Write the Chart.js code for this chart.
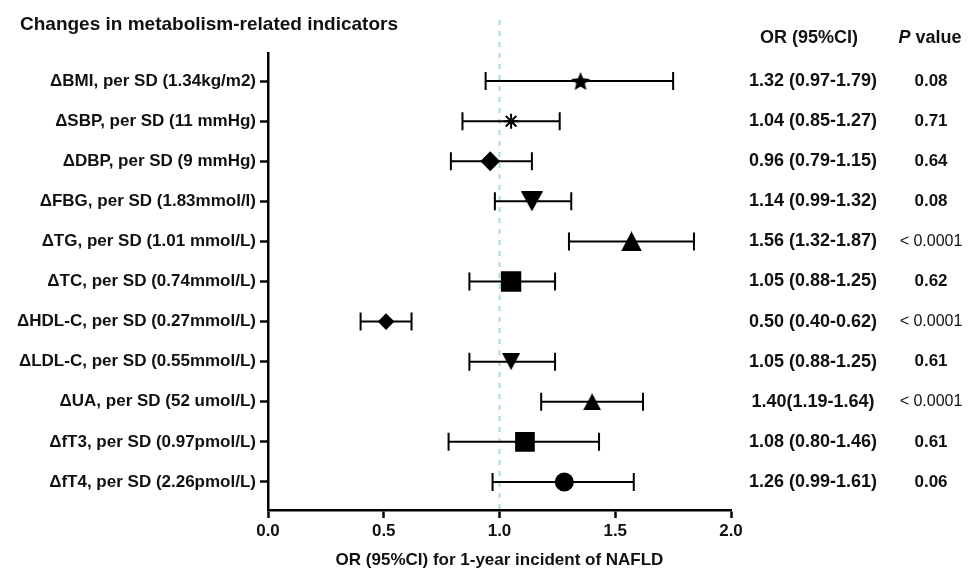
<!DOCTYPE html>
<html>
<head>
<meta charset="utf-8">
<script src="https://cdn.jsdelivr.net/npm/chart.js@4.4.1/dist/chart.umd.min.js"></script>
<style>
  body { margin: 0; background: #fff; }
  #wrap { width: 970px; height: 572px; }
</style>
</head>
<body>
<div id="wrap"><canvas id="forest"></canvas></div>
<script>
// rows, top to bottom
var labels = [
  'ΔBMI, per SD (1.34kg/m2)',
  'ΔSBP, per SD (11 mmHg)',
  'ΔDBP, per SD (9 mmHg)',
  'ΔFBG, per SD (1.83mmol/l)',
  'ΔTG, per SD (1.01 mmol/L)',
  'ΔTC, per SD (0.74mmol/L)',
  'ΔHDL-C, per SD (0.27mmol/L)',
  'ΔLDL-C, per SD (0.55mmol/L)',
  'ΔUA, per SD (52 umol/L)',
  'ΔfT3, per SD (0.97pmol/L)',
  'ΔfT4, per SD (2.26pmol/L)'
];
// values as drawn in the plot
var orValues = [1.35, 1.05, 0.96, 1.14, 1.57, 1.05, 0.51, 1.05, 1.40, 1.11, 1.28];
var ciLow    = [0.94, 0.84, 0.79, 0.98, 1.30, 0.87, 0.40, 0.87, 1.18, 0.78, 0.97];
var ciHigh   = [1.75, 1.26, 1.14, 1.31, 1.84, 1.24, 0.62, 1.24, 1.62, 1.43, 1.58];
// text columns
var orText = ['1.32 (0.97-1.79)', '1.04 (0.85-1.27)', '0.96 (0.79-1.15)', '1.14 (0.99-1.32)',
  '1.56 (1.32-1.87)', '1.05 (0.88-1.25)', '0.50 (0.40-0.62)', '1.05 (0.88-1.25)',
  '1.40(1.19-1.64)', '1.08 (0.80-1.46)', '1.26 (0.99-1.61)'];
var pText = ['0.08', '0.71', '0.64', '0.08', '< 0.0001', '0.62', '< 0.0001', '0.61', '< 0.0001', '0.61', '0.06'];
var xTicks = [0, 0.5, 1.0, 1.5, 2.0];

var FONT = '"Liberation Sans", Arial, sans-serif';
Chart.defaults.font.family = FONT;
Chart.defaults.color = '#111';

function makeStar(R) {
  var c = document.createElement('canvas');
  var s = Math.ceil(R * 2);
  c.width = s; c.height = s;
  var g = c.getContext('2d');
  var cx = s / 2, cy = s / 2 + R * 0.1;
  g.beginPath();
  for (var k = 0; k < 10; k++) {
    var r = k % 2 ? R * 0.45 : R;
    var a = -Math.PI / 2 + k * Math.PI / 5;
    g.lineTo(cx + r * Math.cos(a), cy + r * Math.sin(a));
  }
  g.closePath();
  g.fillStyle = '#000';
  g.fill();
  return c;
}

function makeTriangle(w, h, down) {
  var c = document.createElement('canvas');
  c.width = w; c.height = h;
  var g = c.getContext('2d');
  g.beginPath();
  if (down) {
    g.moveTo(0, 0); g.lineTo(w, 0); g.lineTo(w / 2, h);
  } else {
    g.moveTo(w / 2, 0); g.lineTo(w, h); g.lineTo(0, h);
  }
  g.closePath();
  g.fillStyle = '#000';
  g.fill();
  return c;
}

var markerStyle = [
  makeStar(10), 'star', 'rectRot', makeTriangle(22, 20, true), makeTriangle(21, 20, false),
  'rect', 'rectRot', makeTriangle(18, 17, true), makeTriangle(18, 17, false), 'rect', 'circle'
];
var markerRadius = [10, 7.5, 8.5, 10, 10, 13, 7, 9, 9, 12.5, 8.5];

var forestExtras = {
  id: 'forestExtras',
  beforeDatasetsDraw: function (chart) {
    var ctx = chart.ctx, x = chart.scales.x, y = chart.scales.y;
    var area = chart.chartArea;
    ctx.save();
    // reference line at OR = 1
    ctx.strokeStyle = '#a6ddd0';
    ctx.lineWidth = 2;
    ctx.setLineDash([5, 6]);
    ctx.beginPath();
    ctx.moveTo(x.getPixelForValue(1), 20);
    ctx.lineTo(x.getPixelForValue(1), area.bottom);
    ctx.stroke();
    ctx.setLineDash([]);
    // CI whiskers
    ctx.strokeStyle = '#000';
    ctx.lineWidth = 2;
    for (var i = 0; i < labels.length; i++) {
      var py = y.getPixelForValue(i + 1);
      var x1 = x.getPixelForValue(ciLow[i]);
      var x2 = x.getPixelForValue(ciHigh[i]);
      ctx.beginPath();
      ctx.moveTo(x1, py); ctx.lineTo(x2, py);
      ctx.moveTo(x1, py - 9); ctx.lineTo(x1, py + 9);
      ctx.moveTo(x2, py - 9); ctx.lineTo(x2, py + 9);
      ctx.stroke();
    }
    ctx.restore();
  },
  afterDraw: function (chart) {
    var ctx = chart.ctx, y = chart.scales.y;
    ctx.save();
    ctx.fillStyle = '#111';
    ctx.textBaseline = 'middle';
    ctx.textAlign = 'left';
    ctx.font = 'bold 19px ' + FONT;
    ctx.fillText('Changes in metabolism-related indicators', 20, 25);
    ctx.textAlign = 'center';
    ctx.font = 'bold 18px ' + FONT;
    ctx.fillText('OR (95%CI)', 809, 38);
    ctx.font = 'italic bold 18px ' + FONT;
    var pw = ctx.measureText('P').width;
    ctx.font = 'bold 18px ' + FONT;
    var vw = ctx.measureText(' value').width;
    var start = 930 - (pw + vw) / 2;
    ctx.textAlign = 'left';
    ctx.font = 'italic bold 18px ' + FONT;
    ctx.fillText('P', start, 38);
    ctx.font = 'bold 18px ' + FONT;
    ctx.fillText(' value', start + pw, 38);
    ctx.textAlign = 'center';
    for (var i = 0; i < labels.length; i++) {
      var py = y.getPixelForValue(i + 1);
      ctx.font = 'bold 18px ' + FONT;
      ctx.fillText(orText[i], 813, py);
      if (pText[i].charAt(0) === '<') {
        ctx.font = '16px ' + FONT;
        ctx.fillText(pText[i], 931, py);
      } else {
        ctx.font = 'bold 17px ' + FONT;
        ctx.fillText(pText[i], 931, py);
      }
    }
    ctx.restore();
  }
};

new Chart(document.getElementById('forest'), {
  type: 'scatter',
  data: {
    datasets: [{
      data: orValues.map(function (v, i) { return { x: v, y: i + 1 }; }),
      pointStyle: markerStyle,
      pointRadius: markerRadius,
      backgroundColor: '#000',
      borderColor: '#000',
      borderWidth: 2
    }]
  },
  options: {
    responsive: true,
    maintainAspectRatio: false,
    animation: false,
    layout: { padding: { top: 53, right: 239, left: 0, bottom: 0 } },
    plugins: { legend: { display: false }, tooltip: { enabled: false } },
    scales: {
      x: {
        type: 'linear',
        min: 0,
        max: 2,
        afterBuildTicks: function (axis) {
          axis.ticks = xTicks.map(function (v) { return { value: v }; });
        },
        afterFit: function (axis) { axis.height = 62; },
        ticks: {
          color: '#111',
          padding: 3,
          font: { size: 17, weight: 'bold' },
          callback: function (v) { return Number(v).toFixed(1); }
        },
        grid: { drawOnChartArea: false, tickLength: 8, tickWidth: 2.5, tickColor: '#000' },
        border: { color: '#000', width: 2.5 },
        title: {
          display: true,
          text: 'OR (95%CI) for 1-year incident of NAFLD',
          color: '#111',
          font: { size: 17, weight: 'bold' },
          padding: { top: 0, bottom: 1 }
        }
      },
      y: {
        type: 'linear',
        reverse: true,
        min: 0.3,
        max: 11.7,
        afterBuildTicks: function (axis) {
          axis.ticks = labels.map(function (l, i) { return { value: i + 1 }; });
        },
        afterFit: function (axis) { axis.width = 268; },
        ticks: {
          color: '#111',
          padding: 4,
          font: { size: 17, weight: 'bold' },
          callback: function (v) { return labels[v - 1]; }
        },
        grid: { drawOnChartArea: false, tickLength: 8, tickWidth: 2.5, tickColor: '#000' },
        border: { color: '#000', width: 2.5 }
      }
    }
  },
  plugins: [forestExtras]
});
</script>
</body>
</html>
